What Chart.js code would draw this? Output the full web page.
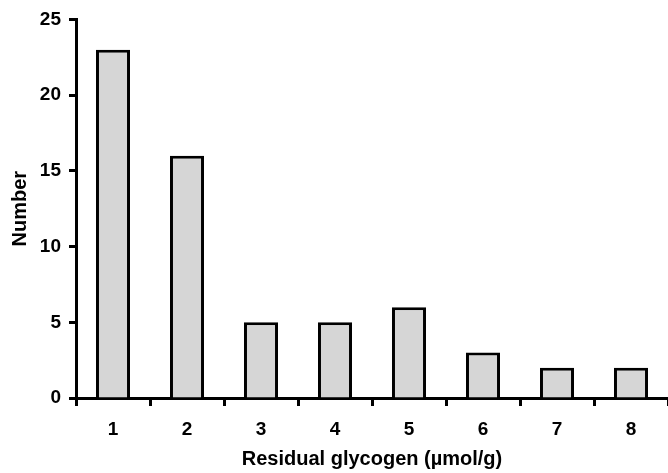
<!DOCTYPE html>
<html>
<head>
<meta charset="utf-8">
<script src="https://cdn.jsdelivr.net/npm/chart.js@4/dist/chart.umd.min.js"></script>
<style>
html,body{margin:0;padding:0;background:#fff;}
#wrap{width:668px;height:473px;position:relative;}
</style>
</head>
<body>
<div id="wrap"><canvas id="c" width="668" height="473"></canvas></div>
<script>
const categories = ["1","2","3","4","5","6","7","8"];
const counts = [23, 16, 5, 5, 6, 3, 2, 2];
const yTicks = [0, 5, 10, 15, 20, 25];
const xTitle = "Residual glycogen (\u00b5mol/g)";
const yTitle = "Number";

const FONT = "'Liberation Sans', Arial, sans-serif";
Chart.defaults.font.family = FONT;
Chart.defaults.color = "#000";

new Chart(document.getElementById("c"), {
  type: "bar",
  data: {
    labels: categories,
    datasets: [{
      data: counts,
      backgroundColor: "#d6d6d6",
      borderColor: "#000",
      borderWidth: 3,
      barPercentage: 0.46,
      categoryPercentage: 1.0
    }]
  },
  options: {
    responsive: false,
    animation: false,
    devicePixelRatio: 1,
    layout: { padding: { top: 18, right: 0, left: 0, bottom: 0 } },
    plugins: { legend: { display: false }, tooltip: { enabled: false } },
    scales: {
      x: {
        offset: true,
        grid: { offset: true, drawOnChartArea: false, drawTicks: true, tickLength: 8, tickWidth: 3, tickColor: "#000" },
        border: { display: true, color: "#000", width: 3 },
        ticks: { font: { size: 19, weight: "bold" }, padding: 12, color: "#000", maxRotation: 0 },
        title: { display: true, text: xTitle, font: { size: 20, weight: "bold" }, color: "#000", padding: { top: 4, bottom: 2 } },
        afterFit(s) { s.height = 75; }
      },
      y: {
        min: 0, max: 25,
        afterBuildTicks(s) { s.ticks = yTicks.map(v => ({ value: v })); },
        grid: { drawOnChartArea: false, drawTicks: true, tickLength: 7, tickWidth: 3, tickColor: "#000" },
        border: { display: true, color: "#000", width: 3 },
        ticks: { font: { size: 19, weight: "bold" }, padding: 8, color: "#000" },
        title: { display: true, text: yTitle, font: { size: 20, weight: "bold" }, color: "#000", padding: { top: 8, bottom: 4 } },
        afterFit(s) { s.width = 76; }
      }
    }
  }
});
</script>
</body>
</html>
